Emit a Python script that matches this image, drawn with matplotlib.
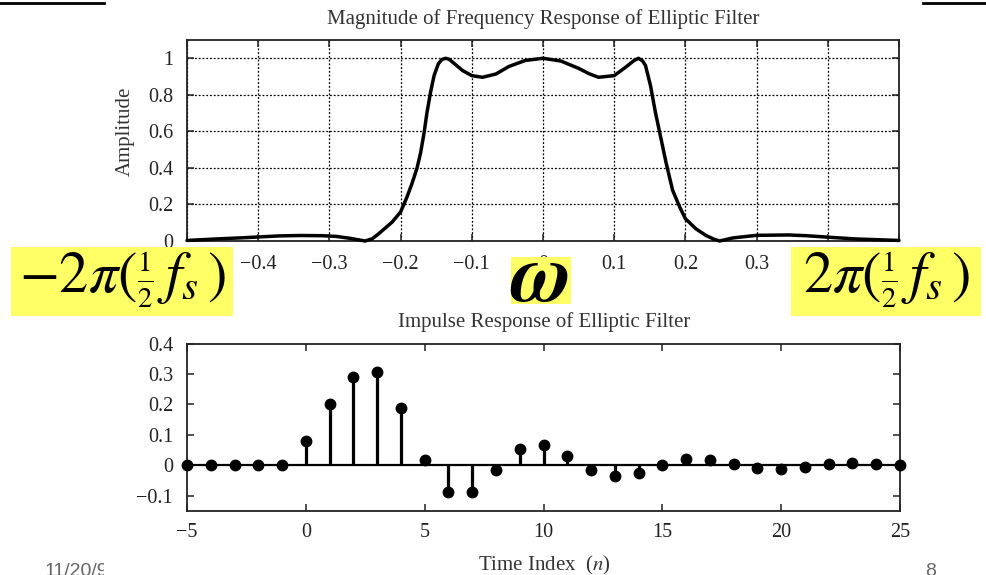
import matplotlib
matplotlib.use('Agg')
import matplotlib.pyplot as plt
from matplotlib.patches import Rectangle
from matplotlib.lines import Line2D
from matplotlib.transforms import Bbox
from matplotlib.ticker import FixedLocator, FuncFormatter

plt.rcParams['font.family'] = ['Liberation Serif', 'DejaVu Serif']
plt.rcParams['mathtext.fontset'] = 'stix'

# magnitude of frequency response
freq = [-0.5, -0.46, -0.42, -0.4, -0.37, -0.34, -0.31, -0.29, -0.27, -0.25,
        -0.24, -0.231, -0.212, -0.2, -0.191, -0.184, -0.177, -0.172, -0.167,
        -0.163, -0.158, -0.153, -0.147, -0.142, -0.137, -0.132, -0.127,
        -0.113, -0.1, -0.085, -0.066, -0.048, -0.025, 0.0, 0.025, 0.05,
        0.065, 0.078, 0.1, 0.116, 0.128, 0.134, 0.14, 0.144, 0.151, 0.158,
        0.166, 0.173, 0.182, 0.192, 0.2, 0.215, 0.229, 0.24, 0.248, 0.267,
        0.3, 0.345, 0.37, 0.4, 0.44, 0.5]
amplitude = [0.003, 0.011, 0.018, 0.022, 0.028, 0.03, 0.029, 0.025, 0.014, 0.0,
             0.012, 0.039, 0.103, 0.159, 0.241, 0.315, 0.398, 0.481, 0.592,
             0.702, 0.813, 0.905, 0.97, 0.993, 1.0, 0.995, 0.979,
             0.933, 0.905, 0.896, 0.914, 0.955, 0.988, 1.0, 0.985, 0.945,
             0.915, 0.896, 0.905, 0.951, 0.988, 1.0, 0.985, 0.96, 0.85, 0.702,
             0.555, 0.426, 0.278, 0.186, 0.122, 0.066, 0.03, 0.01, 0.0, 0.017,
             0.031, 0.033, 0.029, 0.021, 0.011, 0.003]

# impulse response samples
n_index = list(range(-5, 26))
h_n = [0.0, 0.0, 0.0, 0.0, 0.0, 0.079, 0.201, 0.29, 0.306, 0.188,
       0.017, -0.09, -0.087, -0.015, 0.053, 0.066, 0.03, -0.017, -0.037,
       -0.026, 0.0, 0.02, 0.018, 0.004, -0.009, -0.012, -0.005, 0.003,
       0.007, 0.005, 0.0]

freq_ticks = [-0.5, -0.4, -0.3, -0.2, -0.1, 0, 0.1, 0.2, 0.3, 0.4, 0.5]
amp_ticks = [0, 0.2, 0.4, 0.6, 0.8, 1]
n_ticks = [-5, 0, 5, 10, 15, 20, 25]
h_ticks = [-0.1, 0, 0.1, 0.2, 0.3, 0.4]

W, H = 987, 575
fig = plt.figure(figsize=(W / 100, H / 100), dpi=100)

def fx(px):
    return px / W

def fy(py):
    return 1 - py / H

fmt = FuncFormatter(lambda v, p: ('%g' % round(v, 3)).replace('-', '\u2212'))

def style_axes(ax):
    for s in ax.spines.values():
        s.set_linewidth(1.3)
        s.set_color('#222222')
    ax.tick_params(direction='in', top=True, right=True, length=5,
                   width=1.1, labelsize=14.5, pad=10, colors='#222222')
    ax.xaxis.set_major_formatter(fmt)
    ax.yaxis.set_major_formatter(fmt)

# --- top: frequency response
ax1 = fig.add_axes([fx(187), fy(241), fx(712), 201 / H])
ax1.plot(freq, amplitude, color='black', lw=2.5, solid_joinstyle='round',
         solid_capstyle='round', clip_on=False, zorder=3)
ax1.set_xlim(-0.5, 0.5)
ax1.set_ylim(0, 1.1)
ax1.xaxis.set_major_locator(FixedLocator(freq_ticks))
ax1.yaxis.set_major_locator(FixedLocator(amp_ticks))
style_axes(ax1)
ax1.grid(True, color='black', linestyle=(0, (1.5, 1.5)), linewidth=0.9)

fig.text(fx(543), fy(24), 'Magnitude of Frequency Response of Elliptic Filter',
         ha='center', va='baseline', fontsize=15, color='#333333')
fig.text(fx(125), fy(131), 'Amplitude', rotation=90, ha='center', va='center',
         fontsize=15, color='#333333')

# --- bottom: impulse response
ax2 = fig.add_axes([fx(187), fy(510.7), fx(713), 167 / H])
ml, sl, bl = ax2.stem(n_index, h_n, basefmt='k-')
plt.setp(ml, color='black', markersize=7.5, clip_on=False, zorder=4)
plt.setp(sl, color='black', linewidth=2.3)
plt.setp(bl, color='black', linewidth=1.6)
ax2.set_xlim(-5, 25)
ax2.set_ylim(-0.15, 0.4)
ax2.xaxis.set_major_locator(FixedLocator(n_ticks))
ax2.yaxis.set_major_locator(FixedLocator(h_ticks))
style_axes(ax2)
ax2.tick_params(axis='x', pad=9)

fig.text(fx(544), fy(327), 'Impulse Response of Elliptic Filter',
         ha='center', va='baseline', fontsize=15, color='#333333')
fig.text(fx(544), fy(570), 'Time Index  ($n$)',
         ha='center', va='baseline', fontsize=15, color='#333333')

# --- slide overlays: yellow boxes with labels
yellow = '#ffff66'
boxes = [(11, 247, 222, 69), (511, 257, 60, 47), (791, 247, 190, 69)]
for bx, by, bw, bh in boxes:
    fig.add_artist(Rectangle((fx(bx), fy(by + bh)), fx(bw), bh / H,
                             transform=fig.transFigure, facecolor=yellow,
                             edgecolor='none', zorder=5))

half = r'\genfrac{}{}{1.8}{2}{1}{2}'
fig.text(fx(123), fy(280), r'$-2\pi(' + half + r'\,f_s\,)$', ha='center',
         va='center', fontsize=42, zorder=6)
fig.text(fx(887), fy(280), r'$2\pi(' + half + r'\,f_s\,)$', ha='center',
         va='center', fontsize=42, zorder=6)
fig.text(fx(541), fy(281), '\u03c9', ha='center', va='center', fontsize=60,
         family='STIXGeneral', fontstyle='italic', fontweight='bold', zorder=6)

# slide decorations
fig.add_artist(Line2D([0, fx(104)], [fy(3), fy(3)], color='black', lw=2))
fig.add_artist(Line2D([fx(923), 1], [fy(3), fy(3)], color='black', lw=2))
date_txt = fig.text(fx(45), fy(563), '11/20/9', ha='left', va='top',
                    fontsize=14, family='Liberation Sans', color='#666666')
date_txt.set_clip_box(Bbox.from_extents(0, 0, 104, H))
date_txt.set_clip_on(True)
fig.text(fx(925), fy(563), '8', ha='left', va='top', fontsize=14,
         family='Liberation Sans', color='#666666')

fig.savefig('out.png', dpi=100)
